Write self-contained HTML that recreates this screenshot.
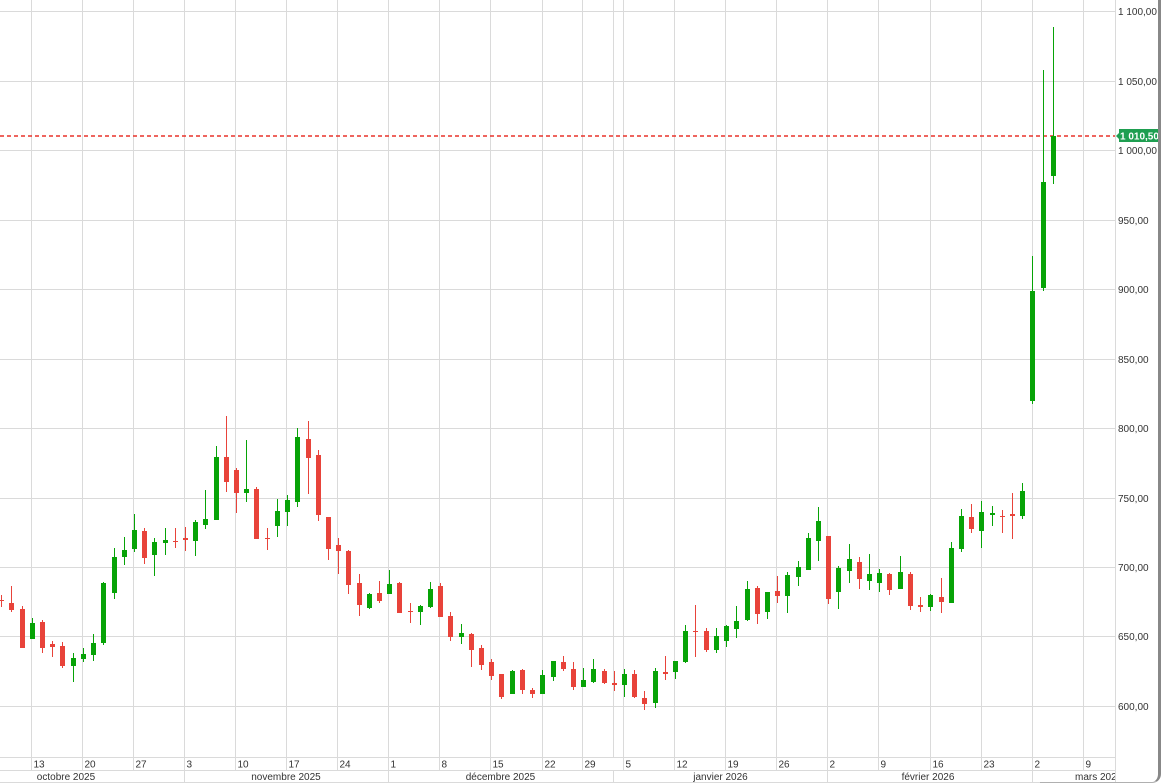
<!DOCTYPE html>
<html>
<head>
<meta charset="utf-8">
<style>
html,body{margin:0;padding:0;background:#fff;}
body{width:1164px;height:783px;overflow:hidden;position:relative;font-family:"Liberation Sans",Arial,sans-serif;}
svg{position:absolute;left:0;top:0;}
.edge{position:absolute;left:1040px;top:-20px;width:118px;height:802px;border-right:3px solid #888;border-bottom:1px solid #b0b0b0;border-bottom-right-radius:9px;box-sizing:content-box;}
</style>
</head>
<body>
<svg width="1164" height="783" viewBox="0 0 1164 783" xmlns="http://www.w3.org/2000/svg">
<g stroke="#dadada" stroke-width="1" shape-rendering="crispEdges" fill="none">
<path d="M0 11.5H1115M0 81.5H1115M0 150.5H1115M0 220.5H1115M0 289.5H1115M0 359.5H1115M0 428.5H1115M0 498.5H1115M0 567.5H1115M0 636.5H1115M0 706.5H1115"/>
<path d="M31.5 0V770M82.5 0V770M133.5 0V770M184.5 0V770M235.5 0V770M286.5 0V770M337.5 0V770M388.5 0V770M439.5 0V770M490.5 0V770M542.5 0V770M582.5 0V770M623.5 0V770M674.5 0V770M725.5 0V770M776.5 0V770M827.5 0V770M878.5 0V770M930.5 0V770M981.5 0V770M1032.5 0V770M1083.5 0V770"/>
<path d="M613.5 0V757"/>
<path d="M0 757.5H1115M0 770.5H1115M0 782.5H1115"/>
<path d="M184.5 770V783M388.5 770V783M613.5 770V783M827.5 770V783M1032.5 770V783"/>
<path d="M1115.5 0V783"/>
</g>

<line x1="0" y1="136" x2="1115" y2="136" stroke="#e8322a" stroke-width="1.6" stroke-dasharray="4,3"/>

<g shape-rendering="crispEdges">
<path fill="none" stroke="#07a307" stroke-width="1" d="M32.5 618V639M73.5 653V682M83.5 648V662M93.5 634V661M103.5 582V645M114.5 548V599M124.5 537V565M134.5 514V552M154.5 538V576M165.5 528V555M195.5 520V556M205.5 490V529M216.5 446V520M246.5 440V502M277.5 499V537M287.5 495V526M297.5 428V507M369.5 593V609M389.5 570V594M420.5 605V625M430.5 582V608M461.5 624V644M512.5 670V694M542.5 670V694M553.5 661V681M583.5 668V687M593.5 659V683M624.5 669V697M655.5 668V708M675.5 661V679M685.5 625V663M716.5 628V653M726.5 625V647M736.5 606V638M747.5 581V621M767.5 592V619M787.5 572V613M798.5 561V586M808.5 533V570M818.5 507V561M838.5 566V609M849.5 544V583M869.5 554V590M879.5 569V592M900.5 556V589M930.5 594V611M951.5 542V603M961.5 509V552M981.5 501V548M992.5 506V526M1022.5 483V519M1032.5 256V404M1043.5 70V291M1053.5 27V184"/>
<path fill="none" stroke="#e8433a" stroke-width="1" d="M1.5 595V607M11.5 586V612M22.5 606V648M42.5 620V653M52.5 641V657M62.5 642V668M144.5 528V564M175.5 528V548M185.5 527V551M226.5 416V492M236.5 468V513M256.5 487V539M267.5 528V550M308.5 421V494M318.5 450V521M328.5 517V560M338.5 538V574M348.5 550V594M359.5 574V616M379.5 581V603M399.5 582V613M410.5 603V623M440.5 583V617M450.5 612V641M471.5 633V667M481.5 645V670M491.5 659V680M501.5 674V699M522.5 669V694M532.5 688V698M563.5 656V671M573.5 662V690M604.5 669V684M614.5 671V691M634.5 670V698M644.5 691V710M665.5 656V680M695.5 605V657M706.5 628V652M757.5 586V624M777.5 576V603M828.5 536V604M859.5 557V589M889.5 573V595M910.5 572V610M920.5 597V612M941.5 578V613M971.5 504V533M1002.5 510V533M1012.5 493V539"/>
<path fill="#07a307" d="M30 623h5v16h-5zM71 658h5v8h-5zM81 654h5v5h-5zM91 643h5v12h-5zM101 583h5v60h-5zM112 557h5v36h-5zM122 550h5v7h-5zM132 530h5v19h-5zM152 542h5v13h-5zM163 540h5v3h-5zM193 522h5v19h-5zM203 519h5v6h-5zM214 457h5v63h-5zM244 489h5v4h-5zM275 511h5v15h-5zM285 500h5v12h-5zM295 437h5v65h-5zM367 594h5v14h-5zM387 584h5v10h-5zM418 606h5v6h-5zM428 589h5v18h-5zM459 633h5v4h-5zM510 671h5v23h-5zM540 675h5v19h-5zM551 661h5v16h-5zM581 680h5v7h-5zM591 669h5v13h-5zM622 674h5v11h-5zM653 671h5v32h-5zM673 661h5v11h-5zM683 631h5v31h-5zM714 636h5v14h-5zM724 626h5v15h-5zM734 621h5v8h-5zM745 589h5v31h-5zM765 592h5v20h-5zM785 575h5v21h-5zM796 567h5v10h-5zM806 538h5v32h-5zM816 521h5v20h-5zM836 568h5v24h-5zM847 559h5v12h-5zM867 574h5v7h-5zM877 573h5v10h-5zM898 572h5v17h-5zM928 595h5v12h-5zM949 548h5v55h-5zM959 516h5v33h-5zM979 512h5v19h-5zM990 513h5v2h-5zM1020 491h5v25h-5zM1030 291h5v110h-5zM1041 182h5v106h-5zM1051 136h5v40h-5z"/>
<path fill="#e8433a" d="M-1 600h5v1h-5zM9 603h5v7h-5zM20 609h5v39h-5zM40 622h5v26h-5zM50 644h5v3h-5zM60 646h5v20h-5zM142 531h5v27h-5zM173 541h5v1h-5zM183 538h5v2h-5zM224 457h5v25h-5zM234 470h5v23h-5zM254 489h5v50h-5zM265 538h5v1h-5zM306 439h5v19h-5zM316 455h5v60h-5zM326 517h5v32h-5zM336 545h5v6h-5zM346 551h5v34h-5zM357 583h5v22h-5zM377 593h5v8h-5zM397 583h5v30h-5zM408 611h5v1h-5zM438 586h5v31h-5zM448 616h5v21h-5zM469 634h5v16h-5zM479 648h5v17h-5zM489 662h5v14h-5zM499 674h5v23h-5zM520 670h5v20h-5zM530 690h5v4h-5zM561 662h5v7h-5zM571 669h5v18h-5zM602 671h5v12h-5zM612 683h5v2h-5zM632 674h5v23h-5zM642 698h5v6h-5zM663 672h5v2h-5zM693 631h5v1h-5zM704 631h5v19h-5zM755 588h5v26h-5zM775 591h5v5h-5zM826 536h5v63h-5zM857 562h5v17h-5zM887 574h5v16h-5zM908 574h5v32h-5zM918 605h5v2h-5zM939 597h5v5h-5zM969 517h5v12h-5zM1000 516h5v1h-5zM1010 514h5v2h-5z"/>
</g>

<g font-family="Liberation Sans, Arial, sans-serif" font-size="10" fill="#333">
<text x="1118" y="15.1">1 100,00</text>
<text x="1118" y="85.1">1 050,00</text>
<text x="1118" y="154.1">1 000,00</text>
<text x="1118" y="224.1">950,00</text>
<text x="1118" y="293.1">900,00</text>
<text x="1118" y="363.1">850,00</text>
<text x="1118" y="432.1">800,00</text>
<text x="1118" y="502.1">750,00</text>
<text x="1118" y="571.1">700,00</text>
<text x="1118" y="640.1">650,00</text>
<text x="1118" y="710.1">600,00</text>
</g>

<polygon points="1116,136 1119.5,132.5 1119.5,139.5" fill="#1e9e50"/>
<rect x="1119" y="129" width="40" height="13" fill="#1e9e50"/>
<text x="1120" y="139.3" font-family="Liberation Sans, Arial, sans-serif" font-size="10" font-weight="bold" fill="#fff">1 010,50</text>

<g font-family="Liberation Sans, Arial, sans-serif" font-size="10" fill="#333">
<text x="33.5" y="767.5">13</text>
<text x="84.5" y="767.5">20</text>
<text x="135.5" y="767.5">27</text>
<text x="186.5" y="767.5">3</text>
<text x="237.5" y="767.5">10</text>
<text x="288.5" y="767.5">17</text>
<text x="339.5" y="767.5">24</text>
<text x="390.5" y="767.5">1</text>
<text x="441.5" y="767.5">8</text>
<text x="492.5" y="767.5">15</text>
<text x="544.5" y="767.5">22</text>
<text x="584.5" y="767.5">29</text>
<text x="625.5" y="767.5">5</text>
<text x="676.5" y="767.5">12</text>
<text x="727.5" y="767.5">19</text>
<text x="778.5" y="767.5">26</text>
<text x="829.5" y="767.5">2</text>
<text x="880.5" y="767.5">9</text>
<text x="932.5" y="767.5">16</text>
<text x="983.5" y="767.5">23</text>
<text x="1034.5" y="767.5">2</text>
<text x="1085.5" y="767.5">9</text>
</g>

<defs><clipPath id="plotclip"><rect x="0" y="0" width="1115" height="783"/></clipPath></defs>
<g font-family="Liberation Sans, Arial, sans-serif" font-size="10" fill="#333" clip-path="url(#plotclip)">
<text x="66" y="780" text-anchor="middle">octobre 2025</text>
<text x="286" y="780" text-anchor="middle">novembre 2025</text>
<text x="500.5" y="780" text-anchor="middle">décembre 2025</text>
<text x="720.5" y="780" text-anchor="middle">janvier 2026</text>
<text x="928" y="780" text-anchor="middle">février 2026</text>
<text x="1075" y="780">mars 2026</text>
</g>
</svg>
<div class="edge"></div>
</body>
</html>
